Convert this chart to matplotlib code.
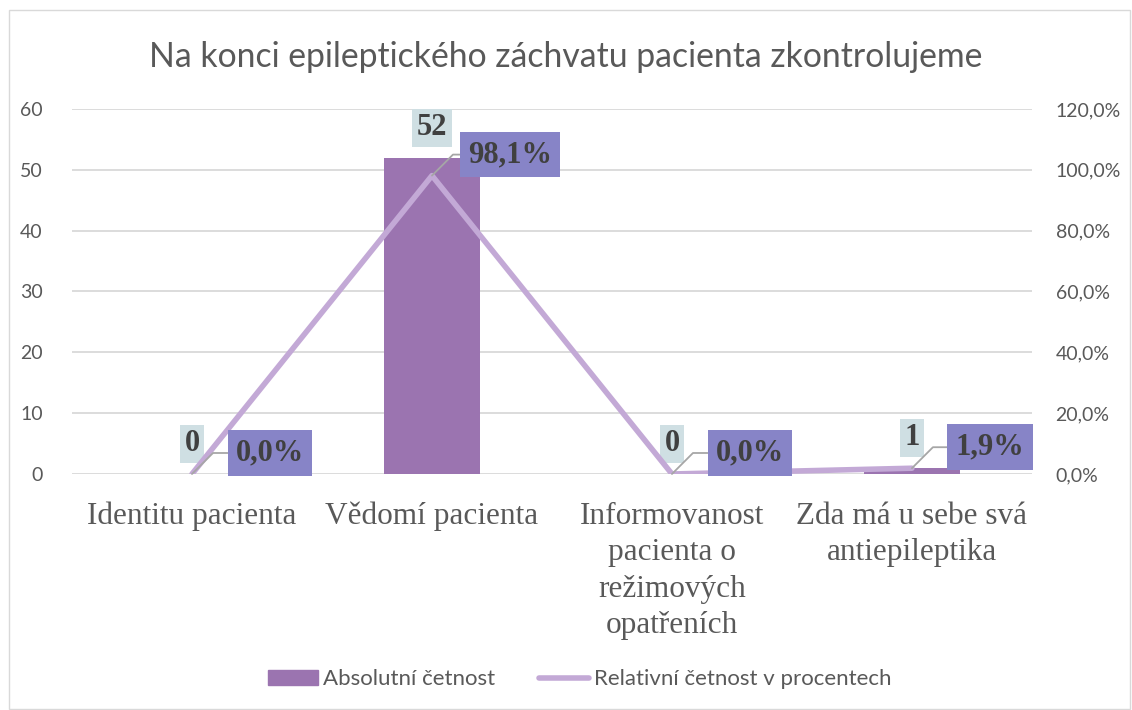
import matplotlib
matplotlib.use('Agg')
import matplotlib.pyplot as plt
from matplotlib.patches import Rectangle
from matplotlib.ticker import FuncFormatter

# data
kategorie = ['Identitu pacienta', 'Vědomí pacienta',
             'Informovanost\npacienta o\nrežimových\nopatřeních',
             'Zda má u sebe svá\nantiepileptika']
absolutni = [0, 52, 0, 1]
relativni = [0.0, 98.1, 0.0, 1.9]
abs_labels = ['0', '52', '0', '1']
rel_labels = ['0,0%', '98,1%', '0,0%', '1,9%']

barva_bar = '#9b74b0'
barva_line = '#c3a9d6'
sans = ['Lato', 'DejaVu Sans']
serif = ['Liberation Serif', 'DejaVu Serif']

fig = plt.figure(figsize=(11.32, 7.1), dpi=100)
ax = fig.add_axes([0.0636, 0.3324, 0.848, 0.5141])
ax2 = ax.twinx()

x = range(len(kategorie))
ax.bar(x, absolutni, width=0.4, color=barva_bar, zorder=2)
ax2.plot(x, relativni, color=barva_line, lw=4, zorder=3, solid_capstyle='round')

ax.set_xlim(-0.5, 3.5)
ax.set_ylim(0, 60)
ax2.set_ylim(0, 120)
ax.set_yticks(range(0, 61, 10))
ax2.set_yticks(range(0, 121, 20))
ax2.yaxis.set_major_formatter(FuncFormatter(lambda v, p: ('%.1f%%' % v).replace('.', ',')))
ax.grid(axis='y', color='#d9d9d9', lw=1.3, zorder=0)
ax.set_axisbelow(True)
for a in (ax, ax2):
    for s in a.spines.values():
        s.set_visible(False)
    a.tick_params(length=0, colors='#595959', labelsize=14)
    for t in a.get_yticklabels():
        t.set_family(sans)
ax.tick_params(axis='y', pad=21)
ax2.tick_params(axis='y', pad=17)
ax.set_xticks(list(x))
ax.set_xticklabels(kategorie, family=serif, fontsize=22.5, color='#595959', linespacing=1.34)
ax.tick_params(axis='x', pad=20)

# popisky sloupcu
for i, v in enumerate(absolutni):
    ax.annotate(abs_labels[i], (i, v), xytext=(0, 30), textcoords='offset pixels',
                ha='center', va='center', family=serif, fontsize=22, fontweight='bold',
                color='#404040', zorder=5,
                bbox=dict(boxstyle='square,pad=0.15', fc='#cfdfe3', ec='none'))

# popisky procent
for i, v in enumerate(relativni):
    ax2.annotate(rel_labels[i], (i, v), xytext=(78, 21), textcoords='offset pixels',
                 ha='center', va='center', family=serif, fontsize=22, fontweight='bold',
                 color='#404040', zorder=6,
                 bbox=dict(boxstyle='square,pad=0.27', fc='#8784c7', ec='none'),
                 arrowprops=dict(arrowstyle='-', color='#a6a6a6', lw=1.3,
                                 connectionstyle='angle,angleA=0,angleB=45,rad=0',
                                 shrinkA=0, shrinkB=0))

fig.text(0.5, 0.92, 'Na konci epileptického záchvatu pacienta zkontrolujeme',
         ha='center', va='center', family=sans, fontsize=24.3, color='#595959')

h1 = Rectangle((0, 0), 1, 1, color=barva_bar)
h2, = ax2.plot([], [], color=barva_line, lw=4, solid_capstyle='round')
fig.legend([h1, h2], ['Absolutní četnost', 'Relativní četnost v procentech'],
           loc='center', bbox_to_anchor=(0.512, 0.043), ncol=2, frameon=False,
           prop={'family': sans, 'size': 16}, labelcolor='#595959',
           handlelength=2.25, columnspacing=2.0, handletextpad=0.2)

fig.patches.append(Rectangle((0.008, 0.002), 0.99, 0.984, transform=fig.transFigure,
                             fill=False, ec='#d9d9d9', lw=1))

fig.savefig('out.png', dpi=100)
